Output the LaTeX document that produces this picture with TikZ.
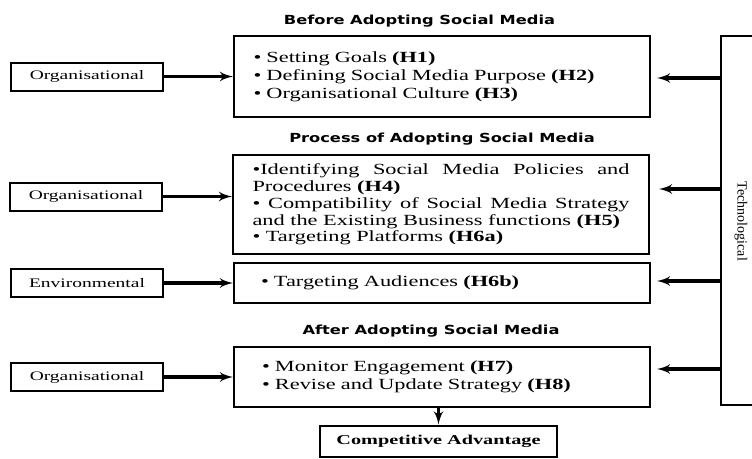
\documentclass[tikz,border=0pt]{standalone}
\usepackage{fontspec}
\setmainfont[FakeStretch=1.5]{Liberation Serif}
\newfontfamily\bodyfont[FakeStretch=1.44]{Liberation Serif}
\newfontfamily\headfont[FakeStretch=1.3]{DejaVu Sans}
\newfontfamily\plainfont{Liberation Serif}
\usetikzlibrary{shapes, arrows, positioning, calc}

\begin{document}
\begin{tikzpicture}[auto, x=1pt, y=-1pt, >=latex']
    \tikzset{
		block/.style={draw, line width=2pt, rectangle, minimum width=416pt, text width=377pt, align=left, inner sep=0pt, font=\bodyfont\fontsize{15.5}{17.8}\selectfont},
		factor/.style={draw, line width=2pt, rectangle, minimum width=152pt, minimum height=28pt, font=\fontsize{13}{15}\selectfont},
		stage/.style={font=\headfont\bfseries\fontsize{12.5}{14}\selectfont},
		sidebar/.style={draw, line width=1.5pt, rectangle, minimum width=34pt, minimum height=369pt},
		link/.style={->, line width=3.5pt}
	}
	\useasboundingbox (0,0) rectangle (752,458);

	% --- Etapas ---
	\node [stage] (before) at (419.5,21) {Before Adopting Social Media};
	\node [stage] (process) at (442,139) {Process of Adopting Social Media};
	\node [stage] (after) at (431,331) {After Adopting Social Media};

	% --- Bloques de hipotesis ---
	\node [block, minimum height=81pt] (goals) at (442,76.5) {\textbullet{} Setting Goals \textbf{(H1)}\\ \textbullet{} Defining Social Media Purpose \textbf{(H2)}\\ \textbullet{} Organisational Culture \textbf{(H3)}};
	\node [block, minimum height=99pt, align=justify, font=\bodyfont\fontsize{15.5}{16.8}\selectfont] (policies) at (441,204.5) {\textbullet Identifying Social Media Policies and\linebreak Procedures \textbf{(H4)}\\ \textbullet{} Compatibility of Social Media Strategy\linebreak and the Existing Business functions \textbf{(H5)}\\ \textbullet{} Targeting Platforms \textbf{(H6a)}};
	\node [block, minimum height=40pt, text width=362pt] (audience) at (442,283) {\textbullet{} Targeting Audiences \textbf{(H6b)}};
	\node [block, minimum height=60pt, text width=360pt] (monitor) at (442,377) {\textbullet{} Monitor Engagement \textbf{(H7)}\\ \textbullet{} Revise and Update Strategy \textbf{(H8)}};

	% --- Factores ---
	\node [factor, left=69pt of goals] (org1) {Organisational};
	\node [factor, left=69pt of policies, yshift=8pt] (org2) {Organisational};
	\node [factor, left=69pt of audience] (env) {Environmental};
	\node [factor, left=69pt of monitor] (org3) {Organisational};

	% --- Tecnologico ---
	\node [sidebar] (tech) at (738,220.5) {};
	\node [rotate=-90, font=\plainfont\fontsize{14}{16}\selectfont] (techlabel) at ($(tech.center)+(3pt,-1pt)$) {Technological};

	% --- Resultado ---
	\node [draw, line width=2pt, minimum width=237pt, minimum height=31pt, font=\fontsize{13.5}{15}\selectfont\bfseries] (advantage) at (438.5,441) {Competitive Advantage};

	% --- Conexiones ---
	\draw [link] (org1.east) -- (org1.east -| goals.west);
	\draw [link] (org2.east) -- (org2.east -| policies.west);
	\draw [link] (env.east) -- (env.east -| audience.west);
	\draw [link] (org3.east) -- (org3.east -| monitor.west);

	\coordinate (t1) at ($(goals.east)+(6pt,-1.5pt)$);
	\coordinate (t2) at ($(policies.east)+(9pt,15.5pt)$);
	\coordinate (t3) at ($(audience.east)+(6pt,2pt)$);
	\coordinate (t4) at ($(monitor.east)+(6pt,8pt)$);
	\draw [link] (tech.west |- t1) -- (t1);
	\draw [link] (tech.west |- t2) -- (t2);
	\draw [link] (tech.west |- t3) -- (t3);
	\draw [link] (tech.west |- t4) -- (t4);

	\draw [link] (monitor.south -| advantage.north) -- (advantage.north);
\end{tikzpicture}
\end{document}
